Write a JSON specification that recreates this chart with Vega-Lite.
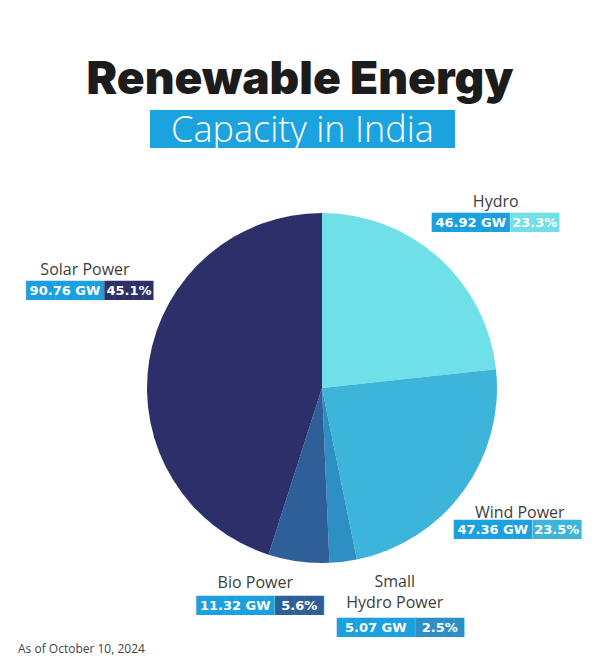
{
  "$schema": "https://vega.github.io/schema/vega-lite/v6.json",
  "autosize": {"type": "none"},
  "padding": {"left": 150, "top": 110, "right": 449, "bottom": 551},
  "background": "white",
  "title": {"text": "Renewable Energy", "font": "Inter", "fontWeight": 900, "fontSize": 46, "color": "#1c1c1c", "anchor": "middle", "frame": "group", "dx": 150, "offset": 6},
  "datasets": {
    "energy": [
      {"idx": 1, "source": "Hydro", "name": "Hydro", "gw": 46.92, "gwLabel": "46.92 GW", "pctLabel": "23.3%"},
      {"idx": 2, "source": "Wind Power", "name": "Wind Power", "gw": 47.36, "gwLabel": "47.36 GW", "pctLabel": "23.5%"},
      {"idx": 3, "source": "Small Hydro Power", "name": "Small\nHydro Power", "gw": 5.07, "gwLabel": "5.07 GW", "pctLabel": "2.5%"},
      {"idx": 4, "source": "Bio Power", "name": "Bio Power", "gw": 11.32, "gwLabel": "11.32 GW", "pctLabel": "5.6%"},
      {"idx": 5, "source": "Solar Power", "name": "Solar Power", "gw": 90.76, "gwLabel": "90.76 GW", "pctLabel": "45.1%"}
    ]
  },
  "bounds": "flush",
  "spacing": 68,
  "vconcat": [
    {
      "width": 305, "height": 38,
      "view": {"fill": "#1ba3e0", "stroke": null},
      "title": {"text": "Capacity in India", "color": "white", "font": "Open Sans", "fontWeight": 300, "fontSize": 36, "anchor": "middle", "frame": "group", "offset": -40},
      "data": {"values": []},
      "mark": "point",
      "encoding": {}
    },
    {
      "width": 344, "height": 344,
      "view": {"stroke": null},
      "title": {"text": "As of October 10, 2024", "orient": "bottom", "anchor": "start", "frame": "group", "dx": -132, "offset": 8, "font": "Open Sans", "fontSize": 12, "fontWeight": "normal", "color": "#444444"},
      "data": {"name": "energy"},
      "transform": [
        {"joinaggregate": [{"op": "sum", "field": "gw", "as": "total"}]},
        {"window": [{"op": "sum", "field": "gw", "as": "cum"}], "sort": [{"field": "idx"}], "frame": [null, 0]},
        {"calculate": "(datum.cum - datum.gw / 2) / datum.total", "as": "mid"}
      ],
      "resolve": {"scale": {"theta": "independent"}},
      "layer": [
        {
          "mark": {"type": "arc", "outerRadius": 175},
          "encoding": {
            "theta": {"field": "gw", "type": "quantitative", "stack": true},
            "order": {"field": "idx", "type": "quantitative"},
            "color": {"field": "source", "type": "nominal", "legend": null,
              "scale": {"domain": ["Hydro", "Wind Power", "Small Hydro Power", "Bio Power", "Solar Power"],
                        "range": ["#6fe0e8", "#3db5da", "#2e8fc4", "#2e5f99", "#2d2f6a"]}}
          }
        },
        {
          "transform": [{"filter": "datum.source === 'Hydro'"}],
          "encoding": {"theta": {"field": "mid", "type": "quantitative", "scale": {"domain": [0, 1], "range": [0, 6.283185307179586]}}, "radius": {"value": 245}},
          "layer": [
            {"mark": {"type": "text", "font": "Open Sans", "fontSize": 16, "color": "#3d3d3d", "baseline": "bottom", "lineHeight": 21, "lineBreak": "\n", "dx": 10, "dy": 4}, "encoding": {"text": {"field": "name"}}},
            {"mark": {"type": "text", "font": "DejaVu Sans Mono", "fontSize": 16.2, "color": "#1aa0e0", "baseline": "middle", "dx": -15, "dy": 17}, "encoding": {"text": {"value": "████████"}}},
            {"mark": {"type": "text", "font": "DejaVu Sans Mono", "fontSize": 16.2, "color": "#6fe0e8", "baseline": "middle", "dx": 49, "dy": 17}, "encoding": {"text": {"value": "█████"}}},
            {"mark": {"type": "text", "font": "DejaVu Sans", "fontWeight": "bold", "fontSize": 13, "color": "white", "baseline": "middle", "dx": -15, "dy": 17}, "encoding": {"text": {"field": "gwLabel"}}},
            {"mark": {"type": "text", "font": "DejaVu Sans", "fontWeight": "bold", "fontSize": 13, "color": "white", "baseline": "middle", "dx": 49, "dy": 17}, "encoding": {"text": {"field": "pctLabel"}}}
          ]
        },
        {
          "transform": [{"filter": "datum.source === 'Wind Power'"}],
          "encoding": {"theta": {"field": "mid", "type": "quantitative", "scale": {"domain": [0, 1], "range": [0, 6.283185307179586]}}, "radius": {"value": 245}},
          "layer": [
            {"mark": {"type": "text", "font": "Open Sans", "fontSize": 16, "color": "#3d3d3d", "baseline": "bottom", "lineHeight": 21, "lineBreak": "\n", "dx": 0, "dy": -12}, "encoding": {"text": {"field": "name"}}},
            {"mark": {"type": "text", "font": "DejaVu Sans Mono", "fontSize": 16.2, "color": "#1aa0e0", "baseline": "middle", "dx": -27, "dy": -3}, "encoding": {"text": {"value": "████████"}}},
            {"mark": {"type": "text", "font": "DejaVu Sans Mono", "fontSize": 16.2, "color": "#3db5da", "baseline": "middle", "dx": 37, "dy": -3}, "encoding": {"text": {"value": "█████"}}},
            {"mark": {"type": "text", "font": "DejaVu Sans", "fontWeight": "bold", "fontSize": 13, "color": "white", "baseline": "middle", "dx": -27, "dy": -3}, "encoding": {"text": {"field": "gwLabel"}}},
            {"mark": {"type": "text", "font": "DejaVu Sans", "fontWeight": "bold", "fontSize": 13, "color": "white", "baseline": "middle", "dx": 37, "dy": -3}, "encoding": {"text": {"field": "pctLabel"}}}
          ]
        },
        {
          "transform": [{"filter": "datum.source === 'Small Hydro Power'"}],
          "encoding": {"theta": {"field": "mid", "type": "quantitative", "scale": {"domain": [0, 1], "range": [0, 6.283185307179586]}}, "radius": {"value": 245}},
          "layer": [
            {"mark": {"type": "text", "font": "Open Sans", "fontSize": 16, "color": "#3d3d3d", "baseline": "bottom", "lineHeight": 21, "lineBreak": "\n", "dx": 43, "dy": -41}, "encoding": {"text": {"field": "name"}}},
            {"mark": {"type": "text", "font": "DejaVu Sans Mono", "fontSize": 16.2, "color": "#1aa0e0", "baseline": "middle", "dx": 24, "dy": -3}, "encoding": {"text": {"value": "████████"}}},
            {"mark": {"type": "text", "font": "DejaVu Sans Mono", "fontSize": 16.2, "color": "#2e8fc4", "baseline": "middle", "dx": 88, "dy": -3}, "encoding": {"text": {"value": "█████"}}},
            {"mark": {"type": "text", "font": "DejaVu Sans", "fontWeight": "bold", "fontSize": 13, "color": "white", "baseline": "middle", "dx": 24, "dy": -3}, "encoding": {"text": {"field": "gwLabel"}}},
            {"mark": {"type": "text", "font": "DejaVu Sans", "fontWeight": "bold", "fontSize": 13, "color": "white", "baseline": "middle", "dx": 88, "dy": -3}, "encoding": {"text": {"field": "pctLabel"}}}
          ]
        },
        {
          "transform": [{"filter": "datum.source === 'Bio Power'"}],
          "encoding": {"theta": {"field": "mid", "type": "quantitative", "scale": {"domain": [0, 1], "range": [0, 6.283185307179586]}}, "radius": {"value": 245}},
          "layer": [
            {"mark": {"type": "text", "font": "Open Sans", "fontSize": 16, "color": "#3d3d3d", "baseline": "bottom", "lineHeight": 21, "lineBreak": "\n", "dx": -34, "dy": -40}, "encoding": {"text": {"field": "name"}}},
            {"mark": {"type": "text", "font": "DejaVu Sans Mono", "fontSize": 16.2, "color": "#1aa0e0", "baseline": "middle", "dx": -54, "dy": -25}, "encoding": {"text": {"value": "████████"}}},
            {"mark": {"type": "text", "font": "DejaVu Sans Mono", "fontSize": 16.2, "color": "#2e5f99", "baseline": "middle", "dx": 10, "dy": -25}, "encoding": {"text": {"value": "█████"}}},
            {"mark": {"type": "text", "font": "DejaVu Sans", "fontWeight": "bold", "fontSize": 13, "color": "white", "baseline": "middle", "dx": -54, "dy": -25}, "encoding": {"text": {"field": "gwLabel"}}},
            {"mark": {"type": "text", "font": "DejaVu Sans", "fontWeight": "bold", "fontSize": 13, "color": "white", "baseline": "middle", "dx": 10, "dy": -25}, "encoding": {"text": {"field": "pctLabel"}}}
          ]
        },
        {
          "transform": [{"filter": "datum.source === 'Solar Power'"}],
          "encoding": {"theta": {"field": "mid", "type": "quantitative", "scale": {"domain": [0, 1], "range": [0, 6.283185307179586]}}, "radius": {"value": 245}},
          "layer": [
            {"mark": {"type": "text", "font": "Open Sans", "fontSize": 16, "color": "#3d3d3d", "baseline": "bottom", "lineHeight": 21, "lineBreak": "\n", "dx": 5, "dy": -72}, "encoding": {"text": {"field": "name"}}},
            {"mark": {"type": "text", "font": "DejaVu Sans Mono", "fontSize": 16.2, "color": "#1aa0e0", "baseline": "middle", "dx": -15, "dy": -59}, "encoding": {"text": {"value": "████████"}}},
            {"mark": {"type": "text", "font": "DejaVu Sans Mono", "fontSize": 16.2, "color": "#2d2f6a", "baseline": "middle", "dx": 49, "dy": -59}, "encoding": {"text": {"value": "█████"}}},
            {"mark": {"type": "text", "font": "DejaVu Sans", "fontWeight": "bold", "fontSize": 13, "color": "white", "baseline": "middle", "dx": -15, "dy": -59}, "encoding": {"text": {"field": "gwLabel"}}},
            {"mark": {"type": "text", "font": "DejaVu Sans", "fontWeight": "bold", "fontSize": 13, "color": "white", "baseline": "middle", "dx": 49, "dy": -59}, "encoding": {"text": {"field": "pctLabel"}}}
          ]
        }
      ]
    }
  ],
  "config": {"view": {"stroke": null}}
}
